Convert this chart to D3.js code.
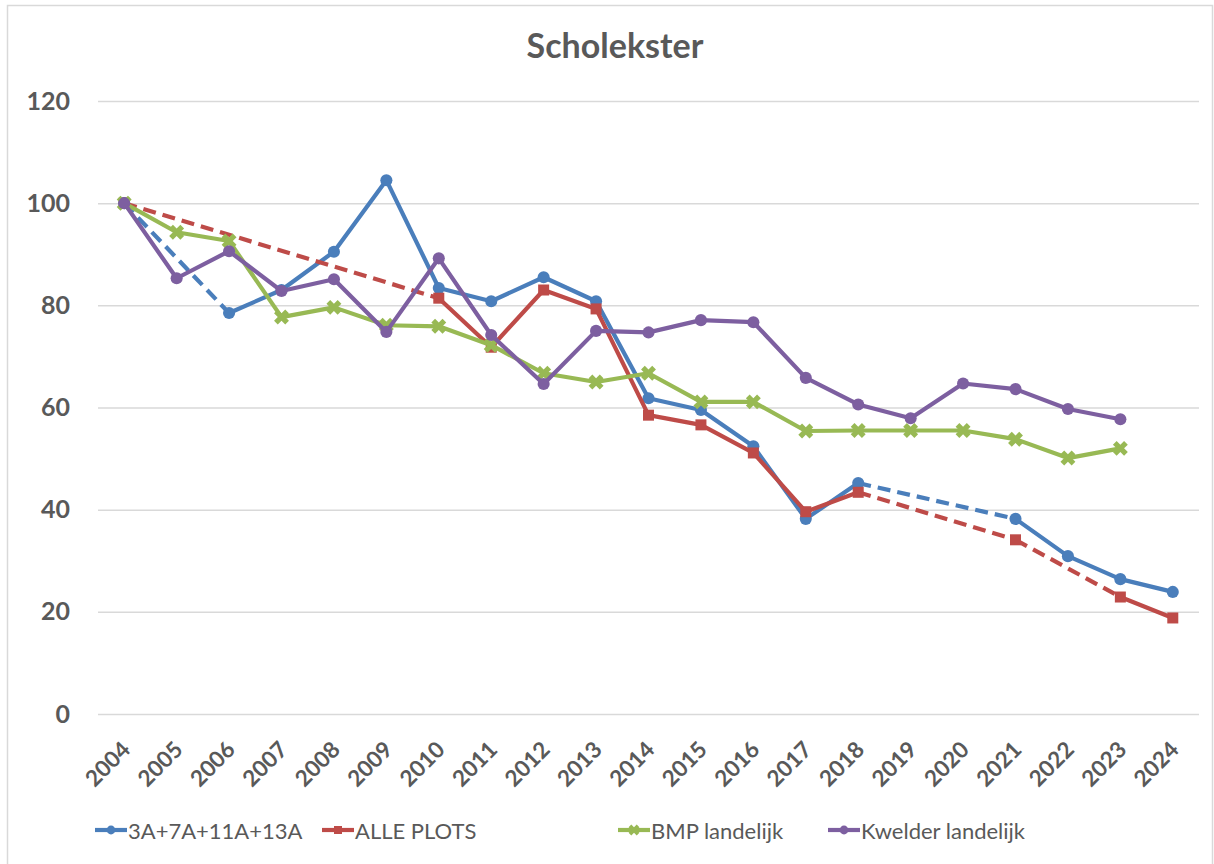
<!DOCTYPE html>
<html>
<head>
<meta charset="utf-8">
<script src="https://cdn.jsdelivr.net/npm/d3@7"></script>
<style>
  html, body { margin: 0; padding: 0; background: #fff; }
  svg { display: block; }
  text { font-family: Lato, "Open Sans", sans-serif; fill: #595959; }
</style>
</head>
<body>
<svg id="chart" width="1214" height="864"></svg>
<script>
// Years on the category axis
const years = [2004, 2005, 2006, 2007, 2008, 2009, 2010, 2011, 2012, 2013, 2014,
               2015, 2016, 2017, 2018, 2019, 2020, 2021, 2022, 2023, 2024];

// Index values (2004 = 100); null = no count that year
const plots3A7A11A13A = [100, null, 78.5, 83.0, 90.5, 104.5, 83.4, 80.8, 85.5, 80.8, 61.8,
                         59.5, 52.4, 38.2, 45.2, null, null, 38.2, 30.9, 26.4, 23.9];
const allePlots       = [100, null, null, null, null, null, 81.4, 71.8, 83.0, 79.3, 58.5,
                         56.6, 51.1, 39.6, 43.4, null, null, 34.1, null, 22.9, 18.8];
const bmpLandelijk    = [100, 94.3, 92.6, 77.7, 79.6, 76.1, 75.9, 72.2, 66.7, 65.0, 66.7,
                         61.1, 61.1, 55.4, 55.5, 55.5, 55.5, 53.8, 50.1, 52.0, null];
const kwelderLandelijk = [100, 85.3, 90.6, 82.8, 85.1, 74.8, 89.2, 74.2, 64.6, 75.0, 74.7,
                          77.1, 76.7, 65.8, 60.6, 57.9, 64.7, 63.6, 59.7, 57.7, null];

const yTicks = [0, 20, 40, 60, 80, 100, 120];

const seriesNames = ["3A+7A+11A+13A", "ALLE PLOTS", "BMP landelijk", "Kwelder landelijk"];
const seriesValues = [plots3A7A11A13A, allePlots, bmpLandelijk, kwelderLandelijk];
const seriesColors = ["#4A7EBB", "#BE4B48", "#98B954", "#7D5FA0"];
const seriesMarkers = ["circle", "square", "x", "circle"];

const svg = d3.select("#chart");

// Outer chart-area border
svg.append("rect")
  .attr("x", 7.5).attr("y", 5.5)
  .attr("width", 1205).attr("height", 880)
  .attr("fill", "#fff").attr("stroke", "#d9d9d9").attr("stroke-width", 1.5);

const plot = { left: 98, right: 1199, top: 101, bottom: 714 };

const x = d3.scalePoint()
  .domain(years)
  .range([plot.left, plot.right])
  .padding(0.5);

const y = d3.scaleLinear()
  .domain([0, 120])
  .range([plot.bottom, plot.top]);

// Title
svg.append("text")
  .attr("x", 615).attr("y", 58)
  .attr("text-anchor", "middle")
  .style("font-size", "34px").style("font-weight", "bold")
  .text("Scholekster");

// Horizontal gridlines and y labels
const yAxis = d3.axisLeft(y)
  .tickValues(yTicks)
  .tickSize(-(plot.right - plot.left))
  .tickPadding(28);

const gy = svg.append("g")
  .attr("transform", `translate(${plot.left},0)`)
  .call(yAxis);
gy.select(".domain").remove();
gy.selectAll(".tick line").attr("stroke", "#d9d9d9").attr("stroke-width", 1.5);
gy.selectAll(".tick text")
  .style("font-size", "25px").style("font-weight", "bold")
  .style("font-family", "Lato, 'Open Sans', sans-serif")
  .attr("fill", "#595959");

// Rotated year labels
const xAxis = d3.axisBottom(x).tickSize(0).tickPadding(0);
const gx = svg.append("g")
  .attr("transform", `translate(0,${plot.bottom})`)
  .call(xAxis);
gx.select(".domain").remove();
gx.selectAll(".tick text")
  .attr("text-anchor", "end")
  .attr("dy", null)
  .attr("y", 0)
  .attr("transform", "translate(7,37) rotate(-45)")
  .style("font-size", "22.5px").style("font-weight", "bold")
  .style("font-family", "Lato, 'Open Sans', sans-serif")
  .attr("fill", "#595959");

function drawMarker(g, kind, color, size) {
  if (kind === "circle") {
    g.append("circle").attr("r", size * 0.55).attr("fill", color);
  } else if (kind === "square") {
    g.append("rect").attr("x", -size / 2).attr("y", -size / 2)
      .attr("width", size).attr("height", size).attr("fill", color);
  } else {
    g.append("path")
      .attr("d", d3.symbol(d3.symbolCross, size * size * 1.15)())
      .attr("transform", "rotate(45)")
      .attr("fill", color);
  }
}

const line = d3.line()
  .defined(d => d.v != null)
  .x(d => x(d.year))
  .y(d => y(d.v));

const plotG = svg.append("g");

seriesValues.forEach((vals, i) => {
  const color = seriesColors[i];
  const pts = years.map((year, j) => ({ year, v: vals[j] }));
  const g = plotG.append("g");

  // Solid runs of consecutive years
  g.append("path")
    .datum(pts)
    .attr("d", line)
    .attr("fill", "none")
    .attr("stroke", color)
    .attr("stroke-width", 4.2)
    .attr("stroke-linejoin", "round")
    .attr("stroke-linecap", "round");

  // Dashed bridges across missing years
  const present = pts.filter(d => d.v != null);
  for (let k = 1; k < present.length; k++) {
    const a = present[k - 1], b = present[k];
    if (years.indexOf(b.year) - years.indexOf(a.year) > 1) {
      g.append("path")
        .datum([a, b])
        .attr("d", line)
        .attr("fill", "none")
        .attr("stroke", color)
        .attr("stroke-width", 4.2)
        .attr("stroke-dasharray", "13,7");
    }
  }

  // Point markers
  g.selectAll("g.pt")
    .data(present)
    .join("g")
    .attr("class", "pt")
    .attr("transform", d => `translate(${x(d.year)},${y(d.v)})`)
    .each(function () { drawMarker(d3.select(this), seriesMarkers[i], color, 11); });
});

// Legend
const legendX = [95, 322, 618, 828];
const legend = svg.append("g").attr("transform", "translate(0,830)");
seriesNames.forEach((name, i) => {
  const lg = legend.append("g").attr("transform", `translate(${legendX[i]},0)`);
  lg.append("line")
    .attr("x1", 0).attr("x2", 32).attr("y1", 0).attr("y2", 0)
    .attr("stroke", seriesColors[i]).attr("stroke-width", 4.2);
  const m = lg.append("g").attr("transform", "translate(16,0)");
  drawMarker(m, seriesMarkers[i], seriesColors[i], 8);
  lg.append("text")
    .attr("x", 33).attr("y", 8.5)
    .style("font-size", "22px")
    .text(name);
});
</script>
</body>
</html>
